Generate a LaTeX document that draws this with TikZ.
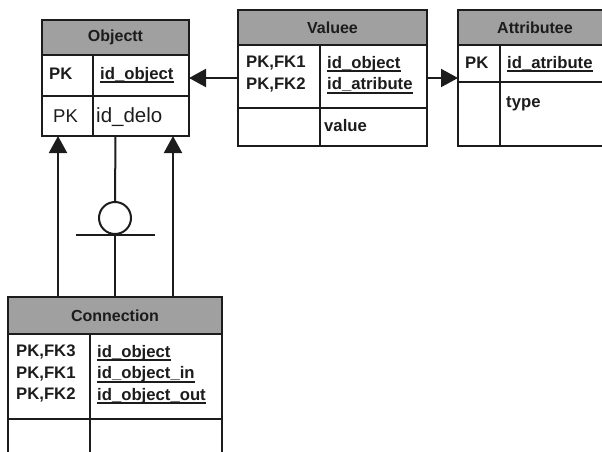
\documentclass[tikz,border=0pt]{standalone}
\usepackage{fontspec}
\setmainfont{Liberation Sans}
\usetikzlibrary{positioning,arrows.meta}
\definecolor{headerGray}{RGB}{160,160,160}
\definecolor{lineColor}{RGB}{28,28,28}
\tikzstyle{diagram} = [x = 1pt, y = -1pt]
\tikzstyle{tableLine} = [color=lineColor, line width=2.4pt]
\tikzstyle{tableBox} = [draw=lineColor, fill=white, line width=2.4pt, rectangle, inner sep=0, outer sep=0, anchor=north west]
\tikzstyle{headerStyle} = [draw=lineColor, fill=headerGray, line width=2.4pt]
\tikzstyle{headerText} = [font=\fontsize{16}{20}\selectfont\bfseries, text=lineColor, midway]
\tikzstyle{fieldText} = [font=\fontsize{16.7}{21.5}\selectfont\bfseries, text=lineColor, inner sep=0, align=left, anchor=north west]
\tikzstyle{fieldBase} = [fieldText, anchor=base west]
\tikzstyle{plainField} = [font=\fontsize{20.5}{22}\selectfont, text=lineColor, inner sep=0, anchor=base west]
\tikzstyle{relationLine} = [color=lineColor, line width=2pt]
\tikzstyle{fkArrow} = [relationLine, -{Triangle[length=17pt, width=18pt]}]
\newcommand{\keyLine}[1]{\setbox0\hbox{#1}\rlap{\vrule height -2pt depth 3.8pt width \wd0}\box0}
% name, left, top, width, height, header, row line, divider, title
\newcommand{\entityTable}[9]{
  \node [tableBox, minimum width=#4pt, minimum height=#5pt] (#1) at (#2,#3) {};
  \filldraw [headerStyle] (#1.north west) rectangle ([yshift=-#6pt]#1.north east) node [headerText] {#9};
  \draw [tableLine] ([yshift=-#7pt]#1.north west) -- ([yshift=-#7pt]#1.north east);
  \draw [tableLine] ([xshift=#8pt, yshift=-#6pt]#1.north west) -- ([xshift=#8pt]#1.south west);
}

\begin{document}
\begin{tikzpicture}[diagram]
    \useasboundingbox (0,0) rectangle (602,452);
    \clip (0,0) rectangle (602,452);
    \entityTable{objectt}{42}{20}{147}{116}{35}{76}{51}{Objectt}
    \entityTable{valuee}{238}{10}{189}{136}{35}{98}{82}{Valuee}
    \entityTable{attributee}{458}{10}{154}{136}{35}{72}{42}{Attributee}
    \entityTable{connection}{8}{297}{214}{180}{37}{122}{82}{Connection}
    % fields
    \node [fieldBase] (objKey) at (49,79) {PK};
    \node [fieldBase] (objId) at (100,79) {\keyLine{id\_object}};
    \node [plainField, font=\fontsize{18.5}{22}\selectfont] (objKeyB) at (53,122) {PK};
    \node [plainField] (objDelo) at (96,122) {id\_delo};
    \node [fieldText] (valKeys) at (246,56) {PK,FK1\\PK,FK2};
    \node [fieldText] (valIds) at (327,56) {\keyLine{id\_object}\\\keyLine{id\_atribute}};
    \node [fieldBase] (valValue) at (324,131) {value};
    \node [fieldBase] (attKey) at (465,68) {PK};
    \node [fieldBase] (attId) at (507,68) {\keyLine{id\_atribute}};
    \node [fieldBase] (attType) at (506,107) {type};
    \node [fieldText] (conKeys) at (16,345) {PK,FK3\\PK,FK1\\PK,FK2};
    \node [fieldText] (conIds) at (97,345) {\keyLine{id\_object}\\\keyLine{id\_object\_in}\\\keyLine{id\_object\_out}};
    % relations
    \draw [fkArrow] (valuee.west) -- (objectt.east);
    \draw [fkArrow] (valuee.east) -- (attributee.west);
    \draw [fkArrow] ([xshift=-57pt]connection.north) -- ([xshift=-57.5pt]objectt.south);
    \draw [fkArrow] ([xshift=58pt]connection.north) -- ([xshift=57.5pt]objectt.south);
    \node [circle, draw=lineColor, line width=2pt, minimum size=32pt, inner sep=0] (optMark) at (115,218) {};
    \draw [relationLine] (objectt.south) -- (optMark.north);
    \draw [relationLine] (optMark.south) -- (connection.north);
    \draw [relationLine] ([xshift=-39.5pt]optMark.south) -- ([xshift=39.5pt]optMark.south);
\end{tikzpicture}
\end{document}
